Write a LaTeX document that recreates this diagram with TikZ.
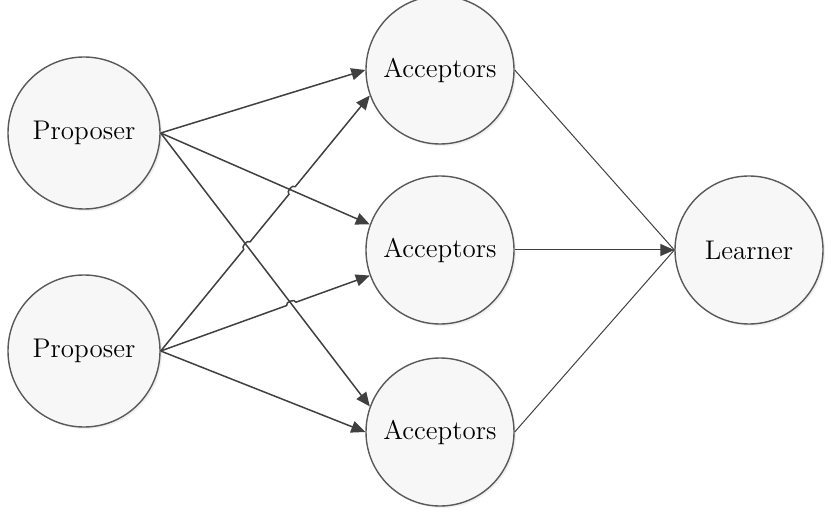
\documentclass[tikz,border=0pt]{standalone}
\usetikzlibrary{arrows.meta,calc,intersections,shadows}

\begin{document}
\begin{tikzpicture}[x=0.5pt,y=0.5pt,
  role/.style={circle,draw=gray!70!black,line width=0.7pt,fill=gray!6,
    drop shadow={opacity=0.12,shadow xshift=1pt,shadow yshift=-1pt},
    inner sep=0pt,font=\fontsize{13.5}{16}\selectfont},
  msg/.style={draw=black!75,line width=0.75pt,-{Triangle[length=7pt,width=6pt]}},
  vote/.style={draw=black!75,line width=0.5pt}]

\useasboundingbox (0,0) rectangle (840,520);

\node[role,minimum size=76pt] (p1) at (84,387) {Proposer};
\node[role,minimum size=76pt] (p2) at (84,169) {Proposer};

\node[role,minimum size=74pt] (a1) at (440,450) {Acceptors};
\node[role,minimum size=74pt] (a2) at (440,270) {Acceptors};
\node[role,minimum size=74pt] (a3) at (440,88) {Acceptors};

\node[role,minimum size=74pt] (l) at (749,270) {Learner};

% proposer 1
\draw[msg] (p1.east) -- (a1.west);
\draw[msg,name path=p1a2] (p1.east) -- (a2.160);
\draw[msg,name path=p1a3] (p1.east) -- (a3.160);

% proposer 2, hopping over the lines of proposer 1
\path[name path=p2a1] (p2.east) -- (a1.200);
\path[name path=p2a2] (p2.east) -- (a2.200);
\path[name intersections={of=p2a1 and p1a2,by=h1}];
\path[name intersections={of=p2a1 and p1a3,by=h2}];
\path[name intersections={of=p2a2 and p1a3,by=h3}];

\draw[msg] (p2.east) -- ($(h2)!2.5pt!(p2.east)$) to[bend left=90] ($(h2)!2.5pt!(a1.200)$)
  -- ($(h1)!2.5pt!(p2.east)$) to[bend left=90] ($(h1)!2.5pt!(a1.200)$) -- (a1.200);
\draw[msg] (p2.east) -- ($(h3)!2.5pt!(p2.east)$) to[bend left=90] ($(h3)!2.5pt!(a2.200)$)
  -- (a2.200);
\draw[msg] (p2.east) -- (a3.west);

% acceptors to learner
\draw[vote] (a1.east) -- (l.west);
\draw[vote] (a3.east) -- (l.west);
\draw[vote,-{Triangle[length=7pt,width=6pt]}] (a2.east) -- (l.west);

\end{tikzpicture}
\end{document}
